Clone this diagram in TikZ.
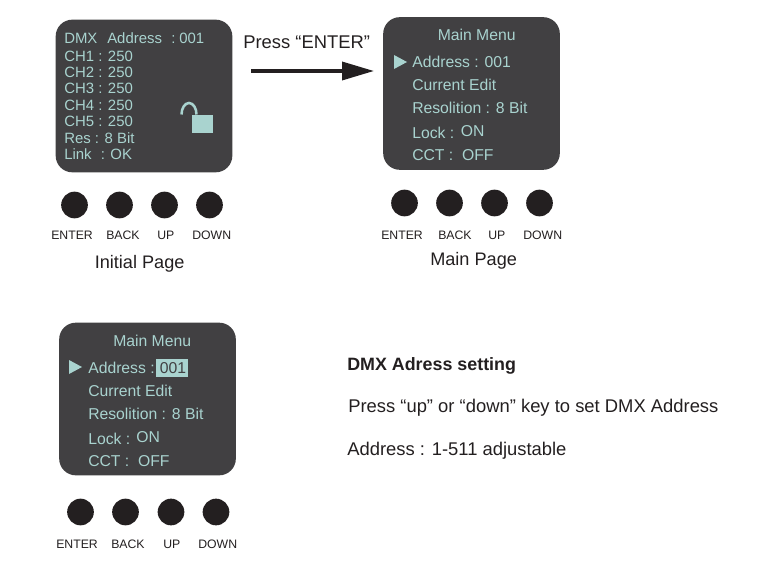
\documentclass[tikz,border=0pt]{standalone}
\usepackage{fontspec}
\setmainfont{Liberation Sans}
\usetikzlibrary{arrows.meta}
\definecolor{panelc}{HTML}{414042}
\definecolor{mintc}{HTML}{A9D3CF}
\definecolor{knobc}{HTML}{231F20}
\tikzset{
  x=0.75pt,y=-0.75pt,
  panel/.style={fill=panelc,draw=none,rounded corners=12.5pt,minimum width=132.5pt,minimum height=114.5pt,inner sep=0pt},
  knob/.style={circle,fill=knobc,draw=none,minimum size=20pt,inner sep=0pt},
  lbl/.style={anchor=base west,inner sep=0pt,text=knobc},
  scr/.style={lbl,text=mintc,font=\fontsize{11.8}{13}\selectfont},
  scrsmall/.style={lbl,text=mintc,font=\fontsize{11.2}{13}\selectfont},
  keylabel/.style={lbl,font=\fontsize{9.2}{11}\selectfont},
  caption/.style={lbl,font=\fontsize{13.6}{15}\selectfont},
  presslabel/.style={lbl,font=\fontsize{13.8}{15}\selectfont},
  notetext/.style={lbl,font=\fontsize{13.8}{15}\selectfont},
  tealblock/.style={fill=mintc,draw=none,inner sep=0pt},
  flow/.style={draw=knobc,line width=2.6pt,-{Triangle[length=24pt,width=13.5pt]}}
}
\begin{document}
\begin{tikzpicture}
\useasboundingbox (0,0) rectangle (762,573);
% Panel 1
\node[panel] (p1) at (144,96) {};
\node[scrsmall] (a0) at (64,44) {DMX};
\node[scrsmall] (a0b) at (107,44) {Address};
\node[scrsmall] (a0c) at (171,44) {:};
\node[scrsmall] (a0d) at (179,44) {001};
\node[scrsmall] (a1) at (64,62) {CH1 : 250};
\node[scrsmall] (a2) at (64,78) {CH2 : 250};
\node[scrsmall] (a3) at (64,94) {CH3 : 250};
\node[scrsmall] (a4) at (64,111) {CH4 : 250};
\node[scrsmall] (a5) at (64,127) {CH5 : 250};
\node[scrsmall] (a6) at (64,144) {Res : 8 Bit};
\node[scrsmall] (a7) at (64,160) {Link};
\node[scrsmall] (a7b) at (100.5,160) {: OK};
\node[tealblock,minimum width=15.75pt,minimum height=13.5pt] (lockbody) at (202.5,124) {};
\draw[mintc,line width=1.9pt] (181.5,114.5) arc[start angle=180,end angle=0,x radius=7.5,y radius=-11.5];
\node[knob] (k1) at (74.5,205) {};
\node[knob] (k2) at (119.5,205) {};
\node[knob] (k3) at (164.5,205) {};
\node[knob] (k4) at (209.5,205) {};
\node[keylabel] (t1) at (51,239) {ENTER};
\node[keylabel] (t2) at (106,239) {BACK};
\node[keylabel] (t3) at (157,239) {UP};
\node[keylabel] (t4) at (192,239) {DOWN};
\node[caption] (c1) at (94.5,268) {Initial Page};
% Arrow
\node[presslabel] (press) at (243,49) {Press “ENTER”};
\coordinate (af) at (251,71);
\coordinate (at) at (374,71);
\draw[flow] (af) -- (at);
% Panel 2
\node[panel] (p2) at (471.5,93.5) {};
\node[scr] (b0) at (437.5,41) {Main Menu};
\fill[mintc] (394,55) -- (407,62) -- (394,69) -- cycle;
\node[scr] (b1) at (412,68) {Address : 001};
\node[scr] (b2) at (412,91) {Current Edit};
\node[scr] (b3) at (412,114) {Resolition : 8 Bit};
\node[scr] (b4) at (412,139) {Lock :};
\node[scr] (b4b) at (460.5,137) {ON};
\node[scr] (b5) at (412,160.5) {CCT :\ \ OFF};
\node[knob] (m1) at (404.5,203) {};
\node[knob] (m2) at (449.5,203) {};
\node[knob] (m3) at (494.5,203) {};
\node[knob] (m4) at (539.5,203) {};
\node[keylabel] (u1) at (381,239) {ENTER};
\node[keylabel] (u2) at (438,239) {BACK};
\node[keylabel] (u3) at (488,239) {UP};
\node[keylabel] (u4) at (523,239) {DOWN};
\node[caption] (c2) at (430,265) {Main Page};
% Panel 3
\node[panel] (p3) at (147.5,399) {};
\node[scr] (d0) at (113,346) {Main Menu};
\fill[mintc] (69,360) -- (82,367) -- (69,374) -- cycle;
\node[scr] (d1) at (88,373) {Address :};
\node[tealblock,minimum width=24pt,minimum height=13.5pt] (hl) at (172,368) {};
\node[lbl,font=\fontsize{11.8}{13}\selectfont,text=panelc] (d1b) at (159.5,373) {001};
\node[scr] (d2) at (88,396) {Current Edit};
\node[scr] (d3) at (88,419) {Resolition : 8 Bit};
\node[scr] (d4) at (88,444) {Lock :};
\node[scr] (d4b) at (136,442) {ON};
\node[scr] (d5) at (88,466) {CCT :\ \ OFF};
\node[knob] (n1) at (80.5,512) {};
\node[knob] (n2) at (125.5,512) {};
\node[knob] (n3) at (171,512) {};
\node[knob] (n4) at (216,512) {};
\node[keylabel] (v1) at (56,548) {ENTER};
\node[keylabel] (v2) at (111,548) {BACK};
\node[keylabel] (v3) at (163,548) {UP};
\node[keylabel] (v4) at (198,548) {DOWN};
% Notes
\node[notetext,font=\bfseries\fontsize{13.4}{15}\selectfont] (h) at (347,370) {DMX Adress setting};
\node[notetext] (h1) at (348,412) {Press “up” or “down” key to set DMX Address};
\node[notetext] (h2) at (347,455) {Address : 1-511 adjustable};
\end{tikzpicture}
\end{document}
